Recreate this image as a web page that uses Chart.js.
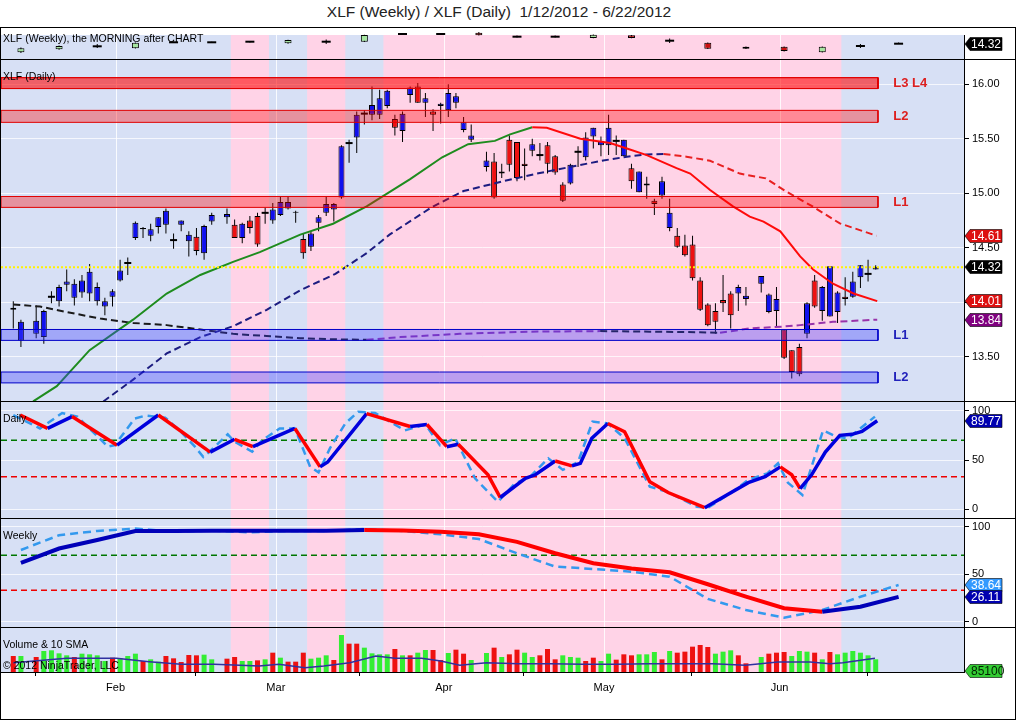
<!DOCTYPE html>
<html>
<head>
<meta charset="utf-8">
<title>XLF (Weekly) / XLF (Daily)</title>
<script src="https://cdn.jsdelivr.net/npm/chart.js@4.4.1/dist/chart.umd.min.js"></script>
<style>
  body { margin: 0; background: #fff; font-family: "Liberation Sans", Arial, sans-serif; }
  #page { position: relative; width: 1016px; height: 720px; overflow: hidden; }
  #title { position: absolute; left: 0; top: 3px; width: 998px; text-align: center; font-size: 15.5px; color: #222; }
  #frame { position: absolute; left: 0; top: 27px; width: 1014px; height: 691px; border: 1px solid #000; }
  canvas { position: absolute; left: 1px; }
  .sep { position: absolute; left: 0; width: 1016px; height: 1px; background: #000; }
  .lbl { position: absolute; left: 3px; font-size: 10.5px; color: #000; white-space: nowrap; }
</style>
</head>
<body>
<div id="page">
  <div id="title">XLF (Weekly) / XLF (Daily)&nbsp; 1/12/2012 - 6/22/2012</div>
  <div id="frame"></div>
  <canvas id="weeklyBars" width="1014" height="31" style="top:28px"></canvas>
  <div class="sep" style="top:59px"></div>
  <canvas id="price" width="1014" height="341" style="top:60px"></canvas>
  <div class="sep" style="top:401px"></div>
  <canvas id="stochDaily" width="1014" height="116" style="top:402px"></canvas>
  <div class="sep" style="top:518px"></div>
  <canvas id="stochWeekly" width="1014" height="108" style="top:519px"></canvas>
  <div class="sep" style="top:627px"></div>
  <canvas id="volume" width="1014" height="91" style="top:628px"></canvas>

  <div class="lbl" style="top:32px">XLF (Weekly), the MORNING after CHART</div>
  <div class="lbl" style="top:70px">XLF (Daily)</div>
  <div class="lbl" style="top:412px">Daily</div>
  <div class="lbl" style="top:529px">Weekly</div>
  <div class="lbl" style="top:638px">Volume &amp; 10 SMA</div>
  <div class="lbl" style="top:659px">&copy; 2012 NinjaTrader, LLC</div>
</div>
<script>
// daily bars: one slot per weekday from 1/12/2012, null on market holidays
const opens = [
  13.93, 13.65, null, 13.71, 13.68, 14.05, 14.01, 14.16, 14.04, 14.09,
  14.08, 14.01, 13.96, 14.05, 14.20, 14.36, 14.59, 14.67, 14.61, 14.69,
  14.71, 14.57, 14.71, 14.56, 14.60, 14.45, 14.74, null, 14.78, 14.71,
  14.59, 14.75, 14.79, 14.82, 14.75, 14.80, 14.86, 14.83, 14.58, 14.51,
  14.73, 14.82, 14.85, 14.96, 15.46, 15.51, 15.73, 15.72, 15.72, 15.80,
  15.68, 15.57, 15.90, 15.98, 15.83, 15.75, 15.80, 15.76, 15.83, 15.58,
  15.49, null, 15.24, 15.29, 15.20, 15.49, 15.47, 15.27, 15.39, 15.35,
  15.44, 15.34, 15.08, 15.09, 15.38, 15.33, 15.52, 15.44, 15.44, 15.48,
  15.34, 15.23, 15.01, 15.07, 14.93, 14.98, 14.68, 14.61, 14.52, 14.53,
  14.20, 13.98, 13.92, 14.02, 14.08, 14.08, 14.03, null, 14.17, 13.91,
  13.92, 13.75, 13.56, 13.59, 13.71, 14.20, 13.92, 13.87, 13.91, 14.05,
  14.05, 14.23, 14.26, 14.30
];
const highs = [
  14.01, 13.84, null, 13.97, 13.93, 14.10, 14.16, 14.30, 14.21, 14.25,
  14.35, 14.18, 14.04, 14.12, 14.39, 14.41, 14.74, 14.69, 14.72, 14.78,
  14.86, 14.63, 14.75, 14.65, 14.68, 14.71, 14.82, null, 14.86, 14.76,
  14.73, 14.79, 14.82, 14.87, 14.91, 14.97, 14.97, 14.84, 14.63, 14.65,
  14.80, 14.97, 14.91, 15.44, 15.49, 15.75, 15.76, 15.98, 15.95, 15.95,
  15.72, 15.75, 15.98, 16.01, 15.92, 15.77, 15.83, 16.00, 15.92, 15.70,
  15.63, null, 15.38, 15.37, 15.27, 15.53, 15.47, 15.41, 15.50, 15.46,
  15.47, 15.35, 15.10, 15.27, 15.43, 15.56, 15.60, 15.52, 15.72, 15.53,
  15.49, 15.27, 15.20, 15.15, 14.95, 15.15, 14.95, 14.68, 14.62, 14.61,
  14.23, 13.99, 13.99, 14.25, 14.10, 14.16, 14.14, null, 14.24, 14.08,
  14.14, 13.75, 13.56, 13.62, 14.00, 14.25, 14.15, 14.33, 14.10, 14.23,
  14.28, 14.34, 14.39, 14.34
];
const lows = [
  13.76, 13.59, null, 13.67, 13.62, 13.99, 13.96, 14.10, 13.97, 14.04,
  14.01, 13.97, 13.88, 13.96, 14.19, 14.25, 14.57, 14.59, 14.56, 14.63,
  14.63, 14.49, 14.65, 14.42, 14.43, 14.39, 14.71, null, 14.72, 14.59,
  14.54, 14.63, 14.51, 14.72, 14.72, 14.79, 14.85, 14.73, 14.40, 14.47,
  14.65, 14.79, 14.74, 14.95, 15.28, 15.37, 15.63, 15.67, 15.68, 15.78,
  15.53, 15.47, 15.83, 15.83, 15.70, 15.57, 15.64, 15.70, 15.78, 15.56,
  15.47, null, 15.20, 14.95, 15.14, 15.20, 15.11, 15.12, 15.34, 15.30,
  15.18, 15.17, 14.92, 15.08, 15.24, 15.30, 15.41, 15.34, 15.35, 15.35,
  15.34, 15.04, 15.01, 14.95, 14.80, 14.95, 14.65, 14.50, 14.42, 14.20,
  13.92, 13.78, 13.71, 13.91, 13.76, 13.92, 13.97, null, 14.09, 13.90,
  13.78, 13.48, 13.30, 13.32, 13.67, 13.95, 13.83, 13.87, 13.81, 13.97,
  14.04, 14.13, 14.19, 14.30
];
const closes = [
  13.95, 13.82, null, 13.83, 13.92, 14.05, 14.14, 14.19, 14.17, 14.20,
  14.28, 14.14, 14.01, 14.10, 14.29, 14.36, 14.73, 14.68, 14.67, 14.78,
  14.84, 14.57, 14.75, 14.62, 14.47, 14.70, 14.80, null, 14.81, 14.59,
  14.72, 14.68, 14.53, 14.82, 14.85, 14.92, 14.92, 14.82, 14.45, 14.63,
  14.78, 14.90, 14.90, 15.43, 15.46, 15.72, 15.73, 15.81, 15.87, 15.94,
  15.60, 15.73, 15.97, 15.83, 15.87, 15.72, 15.82, 15.92, 15.89, 15.65,
  15.53, null, 15.30, 14.96, 15.18, 15.26, 15.14, 15.25, 15.45, 15.35,
  15.27, 15.19, 14.93, 15.26, 15.38, 15.51, 15.60, 15.48, 15.60, 15.48,
  15.49, 15.11, 15.20, 15.09, 14.90, 15.11, 14.82, 14.51, 14.43, 14.22,
  13.93, 13.79, 13.82, 13.99, 13.88, 14.14, 14.06, null, 14.24, 14.07,
  14.03, 13.49, 13.36, 13.34, 13.99, 13.96, 14.14, 14.33, 14.09, 14.03,
  14.19, 14.34, 14.26, 14.32
];
const volumes = [
  107200, 107200, null, 100500, 140700, 145200, 125100, 111700, 100500, 122800,
  118400, 111700, 73700, 96000, 91600, 107200, 122800, 73700, 84900, 69200,
  107200, 91600, 67000, 113900, 111700, 116100, 84900, null, 89300, 100500,
  73700, 73700, 78200, 84900, 129500, 96000, 69200, 69200, 129500, 89300,
  96000, 111700, 80400, 247900, 189800, 189800, 163000, 125100, 118400, 118400,
  154100, 111700, 111700, 129500, 147400, 147400, 80400, 127300, 149600, 122800,
  80400, null, 127300, 163000, 100500, 118400, 149600, 129500, 100500, 111700,
  154100, 84900, 111700, 100500, 96000, 73700, 96000, 73700, 122800, 82600,
  118400, 111700, 118400, 118400, 134000, 84900, 140700, 129500, 136300, 169800,
  180900, 167500, 122800, 136300, 145200, 111700, 58100, null, 100500, 122800,
  129500, 134000, 107200, 140700, 136300, 129500, 84900, 134000, 118400, 129500,
  140700, 129500, 111700, 85100
];
const volDir = [
  -1, 1, 0, -1, 1, 1, 1, 1, -1, 1,
  1, 1, 1, -1, 1, 1, 1, -1, 1, 1,
  -1, -1, -1, -1, -1, 1, 1, 0, -1, -1,
  1, 1, -1, 1, -1, 1, -1, -1, -1, 1,
  1, 1, -1, 1, -1, -1, 1, 1, 1, 1,
  -1, 1, -1, 1, 1, -1, -1, 1, -1, -1,
  1, 0, 1, -1, 1, -1, -1, 1, 1, -1,
  -1, -1, 1, 1, 1, -1, -1, 1, 1, -1,
  -1, -1, 1, 1, 1, -1, 1, -1, -1, -1,
  -1, -1, 1, 1, 1, -1, -1, 0, 1, -1,
  -1, -1, 1, 1, 1, -1, 1, -1, 1, 1,
  1, 1, 1, 1
];
const volSmaSlots = [0, 7, 13.5, 17.8, 22, 26.3, 32.2, 34.8, 38.2, 40.7, 44.1, 47.5, 50, 53.5, 56,
  58.5, 62, 66.2, 70.4, 74.7, 79, 83.2, 87.4, 91.7, 95.9, 100.2, 104.4, 107, 108.7, 112.9];
const volSma = [62500, 91600, 91600, 69200, 51400, 51400, 40200, 51400, 29000, 40200, 62500, 107200, 91600, 91600, 73700,
  44700, 62500, 55800, 55800, 51400, 51400, 55800, 55800, 55800, 44700, 67000, 67000, 55800, 62500, 91600];

// weekly "morning after" bars in the top strip (strip units)
const weekSlots = [1, 6, 11, 16, 21, 26, 31, 36, 41, 46, 51, 56, 61, 66, 71, 76, 81, 86, 91, 96, 101, 106, 111, 116];
const weeklyOpen  = [6.7, 9.7, 12.7, 10.7, 16.7, 16.7, 17.3, 15.7, 17.3, 17.3, 25, 25, 26.3, 22.3, 22.3, 21, 23.7, 18.3, 16.3, 10.3, 12.3, 6.7, 13, 15.3];
const weeklyClose = [10.7, 13, 12.7, 16.3, 16.7, 16.7, 17.3, 19, 17.3, 24, 25, 25, 23.7, 22.3, 22.3, 24.3, 21, 18.3, 10.3, 12.3, 8, 12.3, 13, 15.3];
const weeklyHigh  = [11.5, 13.5, 15, 16.6, 17.5, 17.3, 18, 19.3, 19.5, 24.3, 26, 26, 27, 23.5, 23.5, 24.6, 24, 20.5, 16.6, 12.6, 12.6, 12.6, 15, 16.5];
const weeklyLow   = [6, 9.3, 11, 10.5, 16, 16, 16.5, 15.3, 15, 17, 24, 24, 23.5, 21.5, 21.5, 20.7, 20.7, 16, 10, 10, 7.6, 6.4, 11, 15];

// moving averages on the price panel
const ma20Slots = [2.6, 5.7, 10.0, 15.7, 20.1, 24.5, 28.8, 32.3, 37.6, 41.9, 46.3, 52.0, 56.2, 59.6, 63.1, 65.1, 68.0, 69.9,
  74.3, 78.2, 80.4, 83.0, 86.9, 88.7, 91.3, 94.3, 96.5, 98.3, 100.5, 103.1, 104.8, 107.4, 110.1, 113.2];
const ma20 = [13.09, 13.23, 13.56, 13.84, 14.08, 14.25, 14.37, 14.46, 14.62, 14.72, 14.88, 15.13, 15.33, 15.45, 15.48, 15.54, 15.605, 15.60,
  15.50, 15.46, 15.41, 15.35, 15.23, 15.18, 15.03, 14.88, 14.785, 14.74, 14.65, 14.42, 14.30, 14.17, 14.08, 14.01];
const ma50Slots = [11.8, 15.7, 20.1, 24.5, 28.8, 33.2, 37.6, 42.2, 46.3, 49.3, 54.8, 59.0, 64.2, 68.6, 72.9, 77.3, 80.4, 83.0,
  85.2, 88.2, 91.3, 95.2, 98.6, 101.3, 104.8, 108.3, 113.1];
const ma50 = [13.09, 13.29, 13.53, 13.68, 13.78, 13.93, 14.11, 14.26, 14.45, 14.62, 14.87, 15.02, 15.11, 15.18, 15.24, 15.30, 15.335, 15.356,
  15.36, 15.335, 15.298, 15.18, 15.136, 15.014, 14.876, 14.723, 14.61];
const ma200Slots = [0, 3.5, 7.0, 11.4, 15.7, 20.1, 24.5, 28.8, 33.2, 37.6, 41.9, 46.3, 50.7, 58.5, 67.7, 76.9, 83.4, 90.0,
  92.6, 96.5, 100.7, 103.1, 107.4, 113.2];
const ma200 = [13.98, 13.96, 13.91, 13.85, 13.81, 13.79, 13.75, 13.71, 13.69, 13.67, 13.66, 13.655, 13.68, 13.71, 13.73, 13.735, 13.73, 13.725,
  13.72, 13.76, 13.776, 13.79, 13.82, 13.84];

// stochastics
const dailySlowSlots = [0.9, 4.5, 7.7, 13.6, 19.0, 25.8, 29.0, 31.4, 36.9, 40.2, 41.2, 46.3, 52.0, 54.2, 56.8, 58.3, 62.2, 63.8, 67.1, 68.4,
  71.0, 73.2, 74.3, 75.8, 77.9, 80.1, 83.4, 85.8, 90.6, 96.3, 98.5, 100.5, 102.0, 103.1, 104.6, 106.4, 108.3, 109.9, 111.2, 113.2];
const dailySlow = [95.6, 82, 94, 65, 95.6, 58, 71, 63.5, 82, 43, 48, 97, 84, 86, 63.5, 66, 35, 12, 31.4, 35,
  49, 44, 46.6, 72, 87, 78.7, 28, 17, 1.6, 27, 33, 43, 35, 21, 35, 58, 75, 76, 79, 89.77];
const dailyFastSlots = [0, 3.5, 6.4, 8.4, 12.4, 13.3, 15.9, 17.3, 19.9, 21.8, 23.8, 24.9, 26.2, 28.1, 29.0, 31.3, 32.6, 34.9, 36.9, 38.9,
  40.0, 41.5, 43.5, 45.2, 47.4, 51.3, 54.0, 55.9, 57.9, 60.5, 63.5, 65.7, 67.7, 70.1, 72.0, 74.0, 75.9, 77.9, 80.1, 83.4,
  85.6, 89.6, 91.0, 94.3, 96.3, 98.8, 100.2, 101.5, 103.4, 104.8, 106.1, 107.9, 109.4, 111.3, 112.9];
const dailyFast = [95.6, 82, 97.6, 94, 63.5, 65, 92, 95, 93, 80, 63.5, 53, 62, 76, 68.6, 58.4, 70, 82, 82, 43,
  37.5, 62, 87, 99, 97.6, 80, 86, 65, 72, 31.4, 7.7, 26, 33, 51.7, 40, 48, 89, 87, 72, 23,
  18, 2.6, 1.6, 18, 30, 36.5, 46.6, 27, 14.5, 48, 80, 73.6, 72, 84, 94];
const weeklySlow = [62, 77, 86, 95.5, 95.5, 95.6, 95.6, 95.7, 95.8, 96.5, 96, 94.7, 92, 84, 72, 61.5, 56, 52, 39.4, 26.3, 14.1, 10.5, 15.8, 26.11];
const weeklyFast = [75.5, 91, 95.5, 98, 94.7, 96, 94, 95.5, 95.5, 97.5, 95.5, 92, 87, 72, 58, 55.5, 52.6, 47.4, 24, 12.3, 4.2, 12.3, 26.3, 38.64];
const stochLevels = [70, 33];

// support / resistance zones
const bandNames = ['L3', 'L4', 'L2', 'L1', 'L1', 'L2'];
const bandLo    = [15.96, 15.96, 15.65, 14.87, 13.65, 13.26];
const bandHi    = [16.06, 16.06, 15.76, 14.97, 13.75, 13.36];
const bandSide  = ['r', 'r', 'r', 'r', 's', 's'];
const BAND_END = 113.3;

// axes and shading
const priceTicks = [13.5, 14, 14.5, 15, 15.5, 16];
const stochTicks = [0, 50, 100];
const monthSlots = [14, 35, 57, 78, 101];
const monthNames = ['Feb', 'Mar', 'Apr', 'May', 'Jun'];
const pinkFrom = [29, 39, 49];
const pinkTo   = [33, 43, 108];

const X_MIN = -1.61, X_MAX = 124.57, AXIS_W = 51;
const BLUE_BG = '#d7e0f5', PINK_BG = '#ffd3e7';
const UP = '#1010ee', DOWN = '#ee1111';

Chart.defaults.font.family = '"Liberation Sans", Arial, sans-serif';
Chart.defaults.font.size = 11;
Chart.defaults.color = '#000';
Chart.defaults.elements.point.radius = 0;
Chart.defaults.elements.line.tension = 0;

// blue / pink week shading plus month lines, behind everything
Chart.register({
  id: 'shading',
  beforeDraw(chart) {
    const { ctx, chartArea: a, scales: { x } } = chart;
    ctx.save();
    ctx.fillStyle = BLUE_BG;
    ctx.fillRect(a.left, a.top, a.right - a.left, a.bottom - a.top);
    ctx.fillStyle = PINK_BG;
    pinkFrom.forEach((s, j) => {
      const x0 = Math.max(a.left, x.getPixelForValue(s - 0.5));
      const x1 = Math.min(a.right, x.getPixelForValue(pinkTo[j] + 0.5));
      ctx.fillRect(x0, a.top, x1 - x0, a.bottom - a.top);
    });
    ctx.strokeStyle = 'rgba(255,255,255,0.85)';
    ctx.lineWidth = 1;
    monthSlots.forEach(m => {
      const px = Math.round(x.getPixelForValue(m - 0.6)) + 0.5;
      ctx.beginPath();
      ctx.moveTo(px, a.top);
      ctx.lineTo(px, a.bottom);
      ctx.stroke();
    });
    ctx.restore();
  }
});

// price tags on the right axis
function tagPlugin(items) {
  return {
    id: 'tags',
    afterDraw(chart) {
      const { ctx, chartArea: a, scales: { y } } = chart;
      ctx.save();
      ctx.font = '12px "Liberation Sans", Arial, sans-serif';
      ctx.textBaseline = 'middle';
      items.forEach(t => {
        const py = t.bottom ? a.bottom - 1 : Math.round(y.getPixelForValue(t.value));
        const x0 = a.right + 1, w = 37, h = 13;
        ctx.beginPath();
        ctx.moveTo(x0, py);
        ctx.lineTo(x0 + 5, py - h / 2);
        ctx.lineTo(x0 + w, py - h / 2);
        ctx.lineTo(x0 + w, py + h / 2);
        ctx.lineTo(x0 + 5, py + h / 2);
        ctx.closePath();
        ctx.fillStyle = t.bg;
        ctx.fill();
        ctx.strokeStyle = 'rgba(0,0,0,0.6)';
        ctx.lineWidth = 1;
        ctx.stroke();
        ctx.fillStyle = t.fg || '#fff';
        ctx.fillText(t.text, x0 + 6, py + 0.5);
      });
      ctx.restore();
    }
  };
}

const bandLabelPlugin = {
  id: 'bandLabels',
  afterDatasetsDraw(chart) {
    const { ctx, scales: { x, y } } = chart;
    const groups = [];
    bandNames.forEach((n, j) => {
      const g = groups.find(g => g.lo === bandLo[j] && g.hi === bandHi[j]);
      if (g) g.names.push(n);
      else groups.push({ lo: bandLo[j], hi: bandHi[j], side: bandSide[j], names: [n] });
    });
    ctx.save();
    ctx.font = 'bold 13px "Liberation Sans", Arial, sans-serif';
    ctx.textBaseline = 'middle';
    groups.forEach(g => {
      ctx.fillStyle = g.side === 'r' ? '#dd2020' : '#2222bb';
      ctx.fillText(g.names.join(' '), x.getPixelForValue(BAND_END + 2), y.getPixelForValue((g.lo + g.hi) / 2));
    });
    ctx.restore();
  }
};

function xScale() {
  return { type: 'linear', min: X_MIN, max: X_MAX, offset: false, display: false };
}
function yScale(min, max, ticks, fmt) {
  return {
    type: 'linear', position: 'right', min: min, max: max, beginAtZero: false,
    afterBuildTicks: s => { s.ticks = ticks.map(v => ({ value: v })); },
    afterFit: s => { s.width = AXIS_W; s.paddingTop = 0; s.paddingBottom = 0; },
    ticks: { padding: 3, callback: fmt || (v => String(v)) },
    grid: { color: 'rgba(255,255,255,0.75)', tickColor: '#000', tickLength: 5 },
    border: { display: true, color: '#000' }
  };
}
function baseOptions(scales, padTop) {
  return {
    responsive: false, animation: false, events: [],
    layout: { autoPadding: false, padding: { top: padTop || 0, left: 0, right: 0, bottom: 0 } },
    plugins: { legend: { display: false }, tooltip: { enabled: false } },
    scales: scales
  };
}
function pts(xs, ys) {
  return xs.map((x, j) => ({ x: x, y: ys[j] }));
}
function slopeLine(xs, ys, upColor, downColor, width, dash, order) {
  return {
    type: 'line', data: pts(xs, ys), borderWidth: width, borderDash: dash || [],
    borderColor: upColor, pointRadius: 0, order: order,
    segment: { borderColor: c => (c.p1.parsed.y >= c.p0.parsed.y ? upColor : downColor) }
  };
}
function hLine(value, color, width, dash, order) {
  return {
    type: 'line', data: [{ x: X_MIN, y: value }, { x: X_MAX, y: value }],
    borderColor: color, borderWidth: width, borderDash: dash, pointRadius: 0, order: order
  };
}
function candleSets(o, h, l, c, xs, bodyW, upCol, downCol, dojiR, clip) {
  const wick = [], body = [], doji = [];
  c.forEach((v, j) => {
    if (v === null) return;
    const x = xs ? xs[j] : j;
    wick.push({ x: x, y: [l[j], h[j]] });
    if (Math.abs(v - o[j]) < 0.005) doji.push({ x: x, y: v });
    else body.push({ x: x, y: [o[j], v] });
  });
  const sets = [
    { type: 'line', data: doji, showLine: false, pointStyle: 'line', pointRadius: dojiR,
      pointBorderWidth: 2, pointBorderColor: '#000', order: 3 },
    { type: 'bar', data: body, barThickness: bodyW, grouped: false, borderSkipped: false, inflateAmount: 0,
      borderWidth: 1, borderColor: '#000',
      backgroundColor: ctx => (ctx.raw && ctx.raw.y[1] >= ctx.raw.y[0] ? upCol : downCol), order: 4 },
    { type: 'bar', data: wick, barThickness: 1, grouped: false, borderSkipped: false, inflateAmount: 0,
      borderWidth: 0, backgroundColor: '#000', order: 5 }
  ];
  if (clip === false) sets.forEach(s => { s.clip = false; });
  return sets;
}
const last = a => a[a.length - 1];
const lastClose = closes.filter(v => v !== null).slice(-1)[0];

// ---- weekly strip (shaded part starts a few pixels below the frame) ----
new Chart(document.getElementById('weeklyBars'), {
  type: 'bar',
  data: { datasets: candleSets(weeklyOpen, weeklyHigh, weeklyLow, weeklyClose, weekSlots, 7, '#a6e6a0', '#cc1010', 4.5, false) },
  options: baseOptions({ x: xScale(), y: yScale(0, 24, []) }, 7),
  plugins: [tagPlugin([{ value: last(weeklyClose), text: lastClose.toFixed(2), bg: '#000' }])]
});

// ---- price panel ----
const bandSets = bandLo.map((lo, j) => {
  const hi = bandHi[j], red = bandSide[j] === 'r';
  return {
    type: 'line',
    data: [{ x: X_MIN, y: hi }, { x: BAND_END, y: hi }, { x: BAND_END, y: lo }, { x: X_MIN, y: lo }, { x: X_MIN, y: hi }],
    borderColor: red ? '#e00000' : '#0000c8', borderWidth: 1,
    backgroundColor: red ? 'rgba(255,0,0,0.35)' : 'rgba(60,60,255,0.35)',
    fill: 'shape', pointRadius: 0, order: 0
  };
});
new Chart(document.getElementById('price'), {
  type: 'bar',
  data: {
    datasets: [].concat(
      bandSets,
      [hLine(lastClose, '#fff200', 2, [2, 2], 1)],
      [slopeLine(ma20Slots, ma20, '#1e8c1e', '#ff0a0a', 2, [], 2),
       slopeLine(ma50Slots, ma50, '#1c1c80', '#e82020', 2, [7, 4], 2),
       slopeLine(ma200Slots, ma200, '#9933aa', '#1a1a1a', 2, [7, 4], 2)],
      candleSets(opens, highs, lows, closes, null, 6, UP, DOWN, 3.5)
    )
  },
  options: baseOptions({ x: xScale(), y: yScale(13.094, 16.222, priceTicks, v => v.toFixed(2)) }),
  plugins: [bandLabelPlugin, tagPlugin([
    { value: last(ma50), text: last(ma50).toFixed(2), bg: '#dd1010' },
    { value: lastClose, text: lastClose.toFixed(2), bg: '#000' },
    { value: last(ma20), text: last(ma20).toFixed(2), bg: '#dd1010' },
    { value: last(ma200), text: last(ma200).toFixed(2), bg: '#800080' }
  ])]
});

// ---- daily stochastic ----
new Chart(document.getElementById('stochDaily'), {
  type: 'line',
  data: {
    datasets: [
      slopeLine(dailySlowSlots, dailySlow, '#0000dd', '#ff0000', 3.5, [], 0),
      { type: 'line', data: pts(dailyFastSlots, dailyFast), borderColor: '#3399ee', borderWidth: 2.5, borderDash: [8, 5], pointRadius: 0, order: 1 },
      hLine(stochLevels[0], '#007700', 1.5, [6, 4], 2),
      hLine(stochLevels[1], '#ee0000', 1.5, [6, 4], 2)
    ]
  },
  options: baseOptions({ x: xScale(), y: yScale(-8.8, 108.8, stochTicks) }),
  plugins: [tagPlugin([{ value: last(dailySlow), text: last(dailySlow).toFixed(2), bg: '#0000b0' }])]
});

// ---- weekly stochastic ----
new Chart(document.getElementById('stochWeekly'), {
  type: 'line',
  data: {
    datasets: [
      slopeLine(weekSlots, weeklySlow, '#0000b8', '#ff0000', 4, [], 0),
      { type: 'line', data: pts(weekSlots, weeklyFast), borderColor: '#3399ee', borderWidth: 2.5, borderDash: [8, 5], pointRadius: 0, order: 1 },
      hLine(stochLevels[0], '#007700', 1.5, [6, 4], 2),
      hLine(stochLevels[1], '#ee0000', 1.5, [6, 4], 2)
    ]
  },
  options: baseOptions({ x: xScale(), y: yScale(-5.6, 108.1, stochTicks) }),
  plugins: [tagPlugin([
    { value: last(weeklyFast), text: last(weeklyFast).toFixed(2), bg: '#3399ff' },
    { value: last(weeklySlow), text: last(weeklySlow).toFixed(2), bg: '#0000b0' }
  ])]
});

// ---- volume with 10 SMA, carries the month axis ----
const volBars = [];
volumes.forEach((v, j) => { if (v !== null) volBars.push({ x: j, y: v, d: volDir[j] }); });
const volOpts = baseOptions({
  x: {
    type: 'linear', min: X_MIN, max: X_MAX, offset: false, position: 'bottom',
    afterBuildTicks: s => { s.ticks = monthSlots.map(m => ({ value: m - 0.6 })); },
    afterFit: s => { s.height = 47; s.paddingLeft = 0; s.paddingRight = 0; },
    ticks: { autoSkip: false, maxRotation: 0, padding: 5, callback: (v, i) => monthNames[i] },
    grid: { drawOnChartArea: false, tickColor: '#000', tickLength: 4 },
    border: { display: true, color: '#000' }
  },
  y: yScale(0, 294800, [])
});
new Chart(document.getElementById('volume'), {
  type: 'bar',
  data: {
    datasets: [
      { type: 'line', data: pts(volSmaSlots, volSma), borderColor: '#3030a0', borderWidth: 1.5, pointRadius: 0, order: 0 },
      { type: 'bar', data: volBars, barThickness: 5, grouped: false, inflateAmount: 0, borderWidth: 0,
        backgroundColor: ctx => (ctx.raw && ctx.raw.d < 0 ? '#ee1111' : '#33ee33'), order: 1 }
    ]
  },
  options: volOpts,
  plugins: [tagPlugin([{ bottom: true, text: String(last(volumes)), bg: '#33cc33', fg: '#002200' }])]
});
</script>
</body>
</html>
